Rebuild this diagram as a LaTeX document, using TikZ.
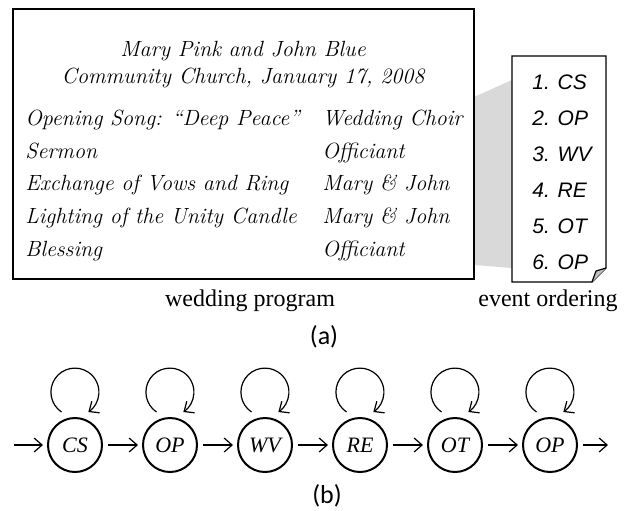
\documentclass[tikz,border=0pt]{standalone}
\usepackage{fontspec}
\newfontfamily\timesfont{Liberation Serif}
\newfontfamily\arialfont{Liberation Sans}
\newfontfamily\calibrifont{Carlito}
\usepackage{tikz}
\usetikzlibrary{calc,positioning,arrows.meta}

\begin{document}
\begin{tikzpicture}[x=0.5pt,y=0.5pt,>={Straight Barb[length=4pt,width=7pt]},
		prog/.style={anchor=base west,inner sep=0pt,font=\fontsize{11}{13}\selectfont\itshape},
		title/.style={anchor=base,inner sep=0pt,font=\fontsize{11}{13}\selectfont\itshape},
		item/.style={anchor=base west,inner sep=0pt,font=\arialfont\fontsize{10.5}{12}\selectfont\itshape},
		state/.style={circle,draw,line width=1pt,minimum size=27pt,inner sep=0pt,font=\timesfont\fontsize{11}{13}\selectfont\itshape},
		flow/.style={->,line width=0.6pt,shorten <=2.5pt,shorten >=2pt},
		caption/.style={anchor=base,inner sep=0pt,font=\timesfont\fontsize{12}{14}\selectfont},
		sublabel/.style={inner sep=0pt,font=\calibrifont\fontsize{13}{15}\selectfont}]
	\useasboundingbox (0,0) rectangle (635,510);
	% (a) program and ordering
	\begin{scope}
		\fill[black!15] (474,413) -- (512,430) -- (512,242) -- (474,245) -- cycle;
		\draw[line width=1pt] (13,231) rectangle (474,501);
		\node(title1) [title] at (243,453) {Mary Pink and John Blue};
		\node(title2) [title] at (243,427) {Community Church, January 17, 2008};
		\node(act1) [prog] at (25,385) {Opening Song: “Deep Peace”};
		\node(act2) [prog] at (25,352) {Sermon};
		\node(act3) [prog] at (25,320) {Exchange of Vows and Ring};
		\node(act4) [prog] at (25,287) {Lighting of the Unity Candle};
		\node(act5) [prog] at (25,254) {Blessing};
		\node(who1) [prog] at (322,385) {Wedding Choir};
		\node(who2) [prog] at (322,352) {Officiant};
		\node(who3) [prog] at (322,320) {Mary \& John};
		\node(who4) [prog] at (322,287) {Mary \& John};
		\node(who5) [prog] at (322,254) {Officiant};
		% the sheet with the folded corner
		\draw[fill=white,line width=0.6pt] (512,228) -- (512,454) -- (606,454) -- (606,242) -- (592,228) -- cycle;
		\draw[fill=black!25,line width=0.6pt,line join=round] (606,242) -- (596,239) -- (592,228);
		\node(ord1) [item] at (532,421) {1. CS};
		\node(ord2) [item] at (532,385) {2. OP};
		\node(ord3) [item] at (532,349) {3. WV};
		\node(ord4) [item] at (532,313) {4. RE};
		\node(ord5) [item] at (532,277) {5. OT};
		\node(ord6) [item] at (532,241) {6. OP};
		\node(progcap) [caption] at (250,204) {wedding program};
		\node(ordcap) [caption] at (548,204) {event ordering};
		\node(suba) [sublabel] at (324,173) {(a)};
	\end{scope}
	% (b) chain of events
	\begin{scope}
		\node(cs) [state] at (75,65) {CS};
		\node(op) [state,right=19.5pt of cs] {OP};
		\node(wv) [state,right=19.5pt of op] {WV};
		\node(re) [state,right=19.5pt of wv] {RE};
		\node(ot) [state,right=19.5pt of re] {OT};
		\node(op2) [state,right=19.5pt of ot] {OP};
		\coordinate(start) at (14,65);
		\coordinate(stop) at (608,65);
		\path[flow]
			(start) edge [shorten <=0pt] (cs)
			(cs) edge (op)
			(op) edge (wv)
			(wv) edge (re)
			(re) edge (ot)
			(ot) edge (op2)
			(op2) edge [shorten >=0pt] (stop);
		\foreach \s in {cs,op,wv,re,ot,op2}
			\draw[->,line width=0.6pt] ([shift={(-13.5,33)}]\s.center) arc[start angle=236,end angle=-56,radius=24];
		\node(subb) [sublabel] at (327,14) {(b)};
	\end{scope}
\end{tikzpicture}
\end{document}
